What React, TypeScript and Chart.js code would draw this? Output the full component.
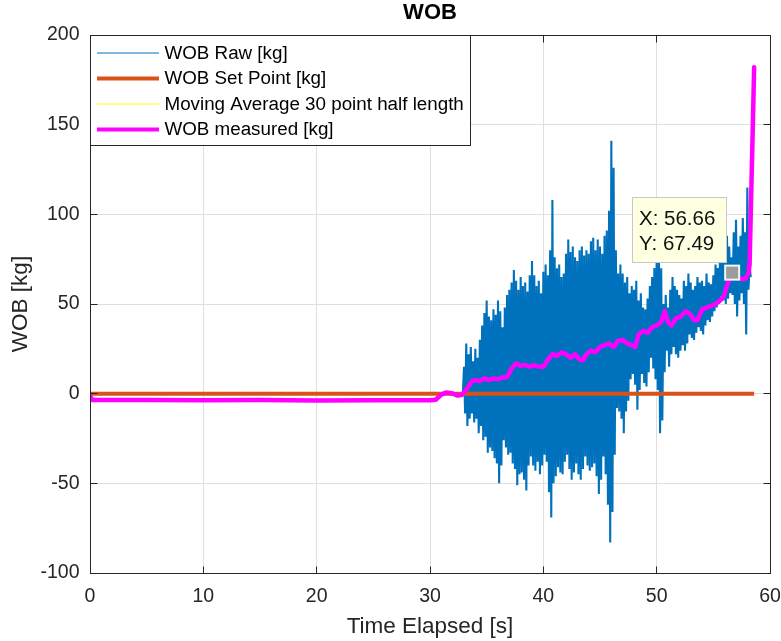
import React, { useEffect, useRef } from 'react';
import { Chart, registerables } from 'chart.js';

Chart.register(...registerables);

// ---------- data ----------
const chartTitle = 'WOB';
const xTitle = 'Time Elapsed [s]';
const yTitle = 'WOB [kg]';
const xTicks = [0, 10, 20, 30, 40, 50, 60];
const yTicks = [-100, -50, 0, 50, 100, 150, 200];
const seriesLabels = [
  'WOB Raw [kg]',
  'WOB Set Point [kg]',
  'Moving Average 30 point half length',
  'WOB measured [kg]',
];

// raw signal before the drilling starts (quiet part)
const rawPreTime = [0, 0.3, 5, 10, 15, 20, 25, 30, 30.6, 31.3, 32, 32.5, 32.9];
const rawPreVal = [-1.5, -3.3, -3.6, -3.5, -3.7, -3.6, -3.6, -3.5, -2.5, 0.8, 0.2, -1.5, -0.3];

// raw signal peaks (high / low) read every 0.2 s from 33.0 s
const rawStart = 33.0;
const rawStep = 0.2;
const rawHigh = [
  15, 28, 22, 26, 18, 25, 20, 30, 38, 45,
  52, 43, 41, 47, 44, 52, 46, 37, 48, 55,
  58, 62, 69, 63, 58, 65, 60, 62, 57, 66,
  74, 66, 60, 63, 56, 68, 72, 66, 80, 108,
  76, 70, 72, 65, 67, 78, 86, 79, 82, 76,
  74, 80, 82, 77, 80, 78, 85, 87, 80, 86,
  82, 78, 88, 91, 102, 141, 126, 80, 67, 72,
  67, 62, 65, 56, 60, 58, 63, 52, 56, 48,
  47, 53, 60, 65, 70, 74, 76, 70, 50, 55,
  48, 58, 65, 60, 58, 55, 53, 63, 60, 67,
  62, 58, 60, 65, 62, 63, 60, 67, 62, 61,
  66, 72, 70, 80, 86, 93, 88, 82, 76, 90,
  97, 82, 88, 98, 90, 115, 72,
];
const rawLow = [
  -11, -18, -14, -11, -16, -14, -22, -18, -26, -24,
  -33, -30, -32, -36, -39, -50, -40, -26, -30, -34,
  -33, -39, -42, -51, -45, -44, -48, -54, -40, -35,
  -40, -43, -38, -45, -40, -34, -38, -55, -69, -50,
  -46, -41, -44, -45, -38, -34, -42, -48, -44, -39,
  -45, -48, -42, -35, -40, -43, -41, -39, -46, -56,
  -48, -35, -45, -62, -83, -66, -34, -8, -10, -14,
  -22, -10, -4, 8, 11, 5, -9, 2, 11, 6,
  4, 12, 20, 14, 8, 2, -22, -15, 12, 24,
  15, 22, 26, 22, 20, 24, 27, 24, 28, 33,
  31, 30, 34, 37, 35, 33, 38, 41, 40, 43,
  46, 48, 50, 54, 52, 50, 53, 56, 55, 50,
  43, 52, 56, 50, 33, 58, 65,
];

const setTime = [0, 58.6];
const setVal = [0, 0];

const measTime = [
  0, 0.2, 2, 5, 10, 15, 20, 25, 30, 30.5, 31, 31.4, 31.9, 32.4, 32.8,
  33.1, 33.4, 33.7, 34, 34.4, 34.8, 35.2, 35.6, 36, 36.4, 36.8,
  37.2, 37.6, 38, 38.4, 38.8, 39.2, 39.6, 40, 40.4, 40.8,
  41.2, 41.6, 42, 42.4, 42.8, 43.2, 43.5, 43.8, 44.2, 44.6, 45, 45.4, 45.8,
  46.2, 46.6, 47, 47.4, 47.8, 48.1, 48.4, 48.8, 49.2, 49.6, 50, 50.4, 50.7,
  51, 51.3, 51.7, 52.1, 52.6, 53, 53.3, 53.6, 54, 54.4, 54.8, 55.2, 55.6, 55.9,
  56.2, 56.5, 56.66, 57, 57.4, 57.8, 58.1, 58.2, 58.3, 58.45, 58.6,
];
const measVal = [
  -1, -3.5, -3.6, -3.6, -3.7, -3.6, -3.8, -3.7, -3.7, -3.4, -0.5, 0.6, 0.3, -1, -0.8,
  1.5, 4, 7, 7.5, 7, 8.5, 7.5, 8.5, 8, 9, 9.3,
  14, 16.8, 15.5, 16, 15, 16, 15, 15, 19, 22,
  21, 23, 22, 20, 22, 19, 18.6, 22, 24, 23, 26, 27, 28,
  26, 29.5, 30, 28, 27, 26, 33, 35, 34, 37, 38, 40, 46,
  40, 38, 42, 43, 46, 44, 41, 41, 47, 48, 49, 50, 52, 54,
  60, 65, 67.5, 66, 64, 64, 67, 72, 100, 140, 182,
];

const tipX = 56.66;
const tipY = 67.49;

// ---------- styles ----------
const FONT = '"Liberation Sans", Arial, Helvetica, sans-serif';
const AXIS = '#262626';
const GRID = '#dfdfdf';
const C_RAW = '#0072BD';
const C_SET = '#D95319';
const C_MA = '#ffff00';
const C_MEAS = '#ff00ff';

const al = (v: number) => Math.round(v - 0.5) + 0.5;

const overlayPlugin = {
  id: 'overlay',
  afterDatasetsDraw(chart: any) {
    const { ctx, chartArea, scales } = chart;
    const { left, right, top, bottom } = chartArea;
    const xs = scales.x;
    const ys = scales.y;
    ctx.save();

    // frame
    ctx.strokeStyle = AXIS;
    ctx.lineWidth = 1;
    ctx.beginPath();
    ctx.rect(al(left), al(top), al(right) - al(left), al(bottom) - al(top));
    ctx.stroke();

    // inward ticks
    const tl = 7;
    ctx.beginPath();
    xTicks.forEach((v) => {
      const px = al(xs.getPixelForValue(v));
      ctx.moveTo(px, al(bottom));
      ctx.lineTo(px, al(bottom) - tl);
      ctx.moveTo(px, al(top));
      ctx.lineTo(px, al(top) + tl);
    });
    yTicks.forEach((v) => {
      const py = al(ys.getPixelForValue(v));
      ctx.moveTo(al(left), py);
      ctx.lineTo(al(left) + tl, py);
      ctx.moveTo(al(right), py);
      ctx.lineTo(al(right) - tl, py);
    });
    ctx.stroke();

    // title
    ctx.fillStyle = '#000';
    ctx.font = `bold 22px ${FONT}`;
    ctx.textAlign = 'center';
    ctx.textBaseline = 'middle';
    ctx.fillText(chartTitle, (left + right) / 2, top - 22);

    // legend
    const ds = chart.data.datasets;
    ctx.font = `18.8px ${FONT}`;
    let maxW = 0;
    ds.forEach((d: any) => {
      maxW = Math.max(maxW, ctx.measureText(d.label).width);
    });
    const lx = al(left);
    const ly = al(top);
    const lw = Math.round(74 + maxW + 7);
    const rowH = 25.5;
    const lh = Math.round(17.5 + rowH * (ds.length - 1) + 15.5);
    ctx.fillStyle = '#fff';
    ctx.fillRect(lx, ly, lw, lh);
    ctx.strokeStyle = AXIS;
    ctx.lineWidth = 1;
    ctx.strokeRect(lx, ly, lw, lh);
    ds.forEach((d: any, i: number) => {
      const cy = ly + 17.5 + i * rowH;
      ctx.beginPath();
      ctx.strokeStyle = d.borderColor;
      ctx.lineWidth = d.legendWidth;
      ctx.moveTo(lx + 6.5, cy);
      ctx.lineTo(lx + 68.5, cy);
      ctx.stroke();
      ctx.fillStyle = '#000';
      ctx.textAlign = 'left';
      ctx.textBaseline = 'middle';
      ctx.fillText(d.label, lx + 74, cy + 0.5);
    });

    // data tip
    const px = xs.getPixelForValue(tipX);
    const py = ys.getPixelForValue(tipY);
    const bx = Math.round(px - 100) + 0.5;
    const by = Math.round(py - 76) + 0.5;
    const bw = 94;
    const bh = 65;
    ctx.fillStyle = '#ffffe1';
    ctx.fillRect(bx, by, bw, bh);
    ctx.strokeStyle = '#c8c8c8';
    ctx.lineWidth = 1;
    ctx.strokeRect(bx, by, bw, bh);
    ctx.fillStyle = '#111';
    ctx.font = `20.5px ${FONT}`;
    ctx.textAlign = 'left';
    ctx.textBaseline = 'middle';
    ctx.fillText(`X: ${tipX.toFixed(2)}`, bx + 6.5, by + 22);
    ctx.fillText(`Y: ${tipY.toFixed(2)}`, bx + 6.5, by + 47);

    // marker
    const ms = 14;
    ctx.fillStyle = '#9b9b9b';
    ctx.fillRect(px - ms / 2, py - ms / 2, ms, ms);
    ctx.strokeStyle = '#f4f4f4';
    ctx.lineWidth = 2;
    ctx.strokeRect(px - ms / 2, py - ms / 2, ms, ms);

    ctx.restore();
  },
};

export default function App() {
  const ref = useRef<HTMLCanvasElement | null>(null);

  useEffect(() => {
    if (!ref.current) return;

    const rawData: { x: number; y: number }[] = rawPreTime.map((t, i) => ({ x: t, y: rawPreVal[i] }));
    rawHigh.forEach((h, i) => {
      const t = rawStart + i * rawStep;
      rawData.push({ x: t, y: h });
      rawData.push({ x: t + rawStep / 2, y: rawLow[i] });
    });
    const setData = setTime.map((t, i) => ({ x: t, y: setVal[i] }));
    const measData = measTime.map((t, i) => ({ x: t, y: measVal[i] }));
    const maData = measTime.map((t, i) => ({ x: t, y: measVal[i] }));

    const chart = new Chart(ref.current, {
      type: 'line',
      data: {
        datasets: [
          {
            label: seriesLabels[0], data: rawData, borderColor: C_RAW, borderWidth: 2.1, order: 4, legendWidth: 1,
            borderJoinStyle: 'bevel',
          } as any,
          { label: seriesLabels[1], data: setData, borderColor: C_SET, borderWidth: 4, order: 3, legendWidth: 4 } as any,
          { label: seriesLabels[2], data: maData, borderColor: C_MA, borderWidth: 1, order: 2, legendWidth: 1 } as any,
          {
            label: seriesLabels[3], data: measData, borderColor: C_MEAS, borderWidth: 4.5, order: 1, legendWidth: 4,
            borderJoinStyle: 'round', borderCapStyle: 'round',
          } as any,
        ],
      },
      options: {
        responsive: false,
        animation: false,
        events: [],
        layout: { padding: { top: 35, right: 11, left: 0, bottom: 0 } },
        elements: { point: { radius: 0 }, line: { tension: 0 } },
        plugins: {
          legend: { display: false },
          tooltip: { enabled: false },
          title: { display: false },
        },
        scales: {
          x: {
            type: 'linear',
            min: 0,
            max: 60,
            afterBuildTicks: (s: any) => {
              s.ticks = xTicks.map((v) => ({ value: v }));
            },
            afterFit: (s: any) => {
              s.height = 68;
              s.paddingLeft = 0;
              s.paddingRight = 0;
            },
            grid: { color: GRID, drawTicks: false, lineWidth: 1 },
            border: { display: true, color: AXIS },
            ticks: {
              color: AXIS,
              font: { size: 19.5, family: FONT },
              padding: 12,
              maxRotation: 0,
              autoSkip: false,
              callback: (v: any) => String(v),
            },
            title: {
              display: true,
              text: xTitle,
              color: AXIS,
              font: { size: 22.5, family: FONT },
              padding: { top: 0, bottom: 0.5 },
            },
          },
          y: {
            type: 'linear',
            min: -100,
            max: 200,
            afterBuildTicks: (s: any) => {
              s.ticks = yTicks.map((v) => ({ value: v }));
            },
            afterFit: (s: any) => {
              s.width = 90;
              s.paddingTop = 0;
              s.paddingBottom = 0;
            },
            grid: { color: GRID, drawTicks: false, lineWidth: 1 },
            border: { display: true, color: AXIS },
            ticks: {
              color: AXIS,
              font: { size: 19.5, family: FONT },
              padding: 10.5,
              autoSkip: false,
              callback: (v: any) => String(v),
            },
            title: {
              display: true,
              text: yTitle,
              color: AXIS,
              font: { size: 22.5, family: FONT },
              padding: { top: 7.5, bottom: 0 },
            },
          },
        },
      },
      plugins: [overlayPlugin],
    });

    return () => chart.destroy();
  }, []);

  return (
    <div style={{ position: 'fixed', left: 0, top: 0, width: 781, height: 641, background: '#fff' }}>
      <canvas ref={ref} width={781} height={641} style={{ width: 781, height: 641, display: 'block' }} />
    </div>
  );
}
